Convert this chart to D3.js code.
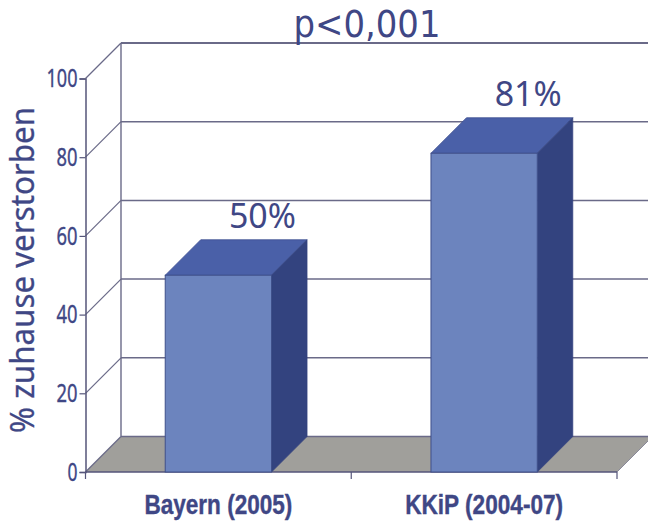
<!DOCTYPE html>
<html>
<head>
<meta charset="utf-8">
<script src="https://cdnjs.cloudflare.com/ajax/libs/d3/7.8.5/d3.min.js"></script>
<style>
  html, body { margin: 0; padding: 0; background: #fff; overflow: hidden; }
  svg { display: block; }
</style>
</head>
<body>
<div id="chart"></div>
<script>
var categories = ['Bayern (2005)', 'KKiP (2004-07)']
var values = [50, 81]
var valueLabels = ['50%', '81%']
var yTicks = [0, 20, 40, 60, 80, 100]
var title = 'p<0,001'
var yTitle = '% zuhause verstorben'

var width = 648
var height = 522
var depthX = 35.5
var depthY = 35.5

var textColor = '#3f4785'
var lineColor = '#6a6a88'

var svg = d3.select('#chart')
  .append('svg')
  .attr('width', width)
  .attr('height', height)

var x = d3.scaleBand()
  .domain(categories)
  .range([85.5, 617])
  .paddingInner(0.6)
  .paddingOuter(0.3)

var y = d3.scaleLinear()
  .domain([0, 100])
  .range([472, 78.5])

function pts(list) {
  return list.map(function(p) { return p.join(',') }).join(' ')
}

// floor
svg.append('polygon')
  .attr('points', pts([
    [x.range()[0], y(0)],
    [x.range()[0] + depthX, y(0) - depthY],
    [x.range()[1] + depthX, y(0) - depthY],
    [x.range()[1], y(0)]
  ]))
  .attr('fill', '#a09f9b')
  .attr('stroke', 'none')

// back wall gridlines + the slanted bits on the side wall
yTicks.forEach(function(t) {
  svg.append('line')
    .attr('x1', x.range()[0] + depthX)
    .attr('x2', width)
    .attr('y1', y(t) - depthY)
    .attr('y2', y(t) - depthY)
    .attr('stroke', lineColor)
    .attr('stroke-width', t === 100 ? 2 : 1.5)
  svg.append('line')
    .attr('x1', x.range()[0])
    .attr('x2', x.range()[0] + depthX)
    .attr('y1', y(t))
    .attr('y2', y(t) - depthY)
    .attr('stroke', lineColor)
    .attr('stroke-width', 1.2)
})

svg.append('line')
  .attr('x1', x.range()[0] + depthX)
  .attr('x2', x.range()[0] + depthX)
  .attr('y1', y(100) - depthY)
  .attr('y2', y(0) - depthY)
  .attr('stroke', lineColor)
  .attr('stroke-width', 1.4)

// y axis
var yAxis = d3.axisLeft(y).tickValues(yTicks).tickSize(6).tickPadding(2)
var yG = svg.append('g')
  .attr('transform', 'translate(' + x.range()[0] + ',0)')
  .call(yAxis)
yG.select('.domain').attr('stroke', '#55557a').attr('stroke-width', 1.5)
yG.selectAll('.tick line').attr('stroke', '#55557a').attr('stroke-width', 1.2)
yG.selectAll('.tick text')
  .attr('fill', textColor)
  .attr('stroke', textColor)
  .attr('stroke-width', 0.4)
  .attr('font-family', 'Noto Sans')
  .attr('font-size', 26)
  .attr('textLength', function(d) { return d === 100 ? 31 : d === 0 ? 10 : 21 })
  .attr('lengthAdjust', 'spacingAndGlyphs')

// x axis line with ticks at the band edges
var edges = [x.range()[0], (x.range()[0] + x.range()[1]) / 2, x.range()[1]]
svg.append('line')
  .attr('x1', edges[0])
  .attr('x2', edges[2])
  .attr('y1', y(0))
  .attr('y2', y(0))
  .attr('stroke', '#55557a')
  .attr('stroke-width', 1.5)
edges.forEach(function(e) {
  svg.append('line')
    .attr('x1', e)
    .attr('x2', e)
    .attr('y1', y(0))
    .attr('y2', y(0) + 7)
    .attr('stroke', '#55557a')
    .attr('stroke-width', 1.2)
})
svg.append('line')
  .attr('x1', edges[2])
  .attr('x2', edges[2] + depthX)
  .attr('y1', y(0))
  .attr('y2', y(0) - depthY)
  .attr('stroke', '#8a8a9a')
  .attr('stroke-width', 1)

// bars
var bars = svg.selectAll('g.bar')
  .data(categories)
  .enter().append('g')
  .attr('class', 'bar')

bars.append('polygon')
  .attr('points', function(d, i) {
    var x0 = x(d), x1 = x(d) + x.bandwidth(), top = y(values[i])
    return pts([[x0, top], [x0 + depthX, top - depthY], [x1 + depthX, top - depthY], [x1, top]])
  })
  .attr('fill', '#4a60a8')
  .attr('stroke', '#3f4f90')
  .attr('stroke-width', 0.8)

bars.append('polygon')
  .attr('points', function(d, i) {
    var x1 = x(d) + x.bandwidth(), top = y(values[i])
    return pts([[x1, top], [x1 + depthX, top - depthY], [x1 + depthX, y(0) - depthY], [x1, y(0)]])
  })
  .attr('fill', '#33437f')
  .attr('stroke', '#33437f')
  .attr('stroke-width', 0.8)

bars.append('rect')
  .attr('x', function(d) { return x(d) })
  .attr('y', function(d, i) { return y(values[i]) })
  .attr('width', x.bandwidth())
  .attr('height', function(d, i) { return y(0) - y(values[i]) })
  .attr('fill', '#6c84be')
  .attr('stroke', '#3f4f8a')
  .attr('stroke-width', 1)

bars.append('text')
  .attr('x', function(d) { return x(d) + x.bandwidth() / 2 + depthX + 8.5 })
  .attr('y', function(d, i) { return y(values[i]) - depthY - 12 })
  .attr('text-anchor', 'middle')
  .attr('fill', textColor)
  .attr('font-family', 'Noto Sans')
  .attr('font-size', 34)
  .attr('textLength', 67)
  .attr('lengthAdjust', 'spacingAndGlyphs')
  .text(function(d, i) { return valueLabels[i] })

// category labels
svg.selectAll('text.cat')
  .data(categories)
  .enter().append('text')
  .attr('class', 'cat')
  .attr('x', function(d) { return x(d) + x.bandwidth() / 2 })
  .attr('y', 514)
  .attr('text-anchor', 'middle')
  .attr('fill', textColor)
  .attr('stroke', textColor)
  .attr('stroke-width', 0.4)
  .attr('font-family', 'Liberation Sans')
  .attr('font-weight', 'bold')
  .attr('font-size', 28)
  .attr('textLength', function(d, i) { return i === 0 ? 148 : 158 })
  .attr('lengthAdjust', 'spacingAndGlyphs')
  .text(function(d) { return d })

// DejaVu here, Noto's ascent pokes past the top of the page at this size
svg.append('text')
  .attr('x', 367)
  .attr('y', 37)
  .attr('text-anchor', 'middle')
  .attr('fill', textColor)
  .attr('font-family', 'DejaVu Sans')
  .attr('font-size', 37)
  .attr('textLength', 147)
  .attr('lengthAdjust', 'spacingAndGlyphs')
  .text(title)

svg.append('text')
  .attr('transform', 'translate(34,270) rotate(-90)')
  .attr('text-anchor', 'middle')
  .attr('fill', textColor)
  .attr('stroke', textColor)
  .attr('stroke-width', 0.3)
  .attr('font-family', 'Noto Sans')
  .attr('font-size', 33)
  .attr('textLength', 326)
  .attr('lengthAdjust', 'spacingAndGlyphs')
  .text(yTitle)
</script>
</body>
</html>
